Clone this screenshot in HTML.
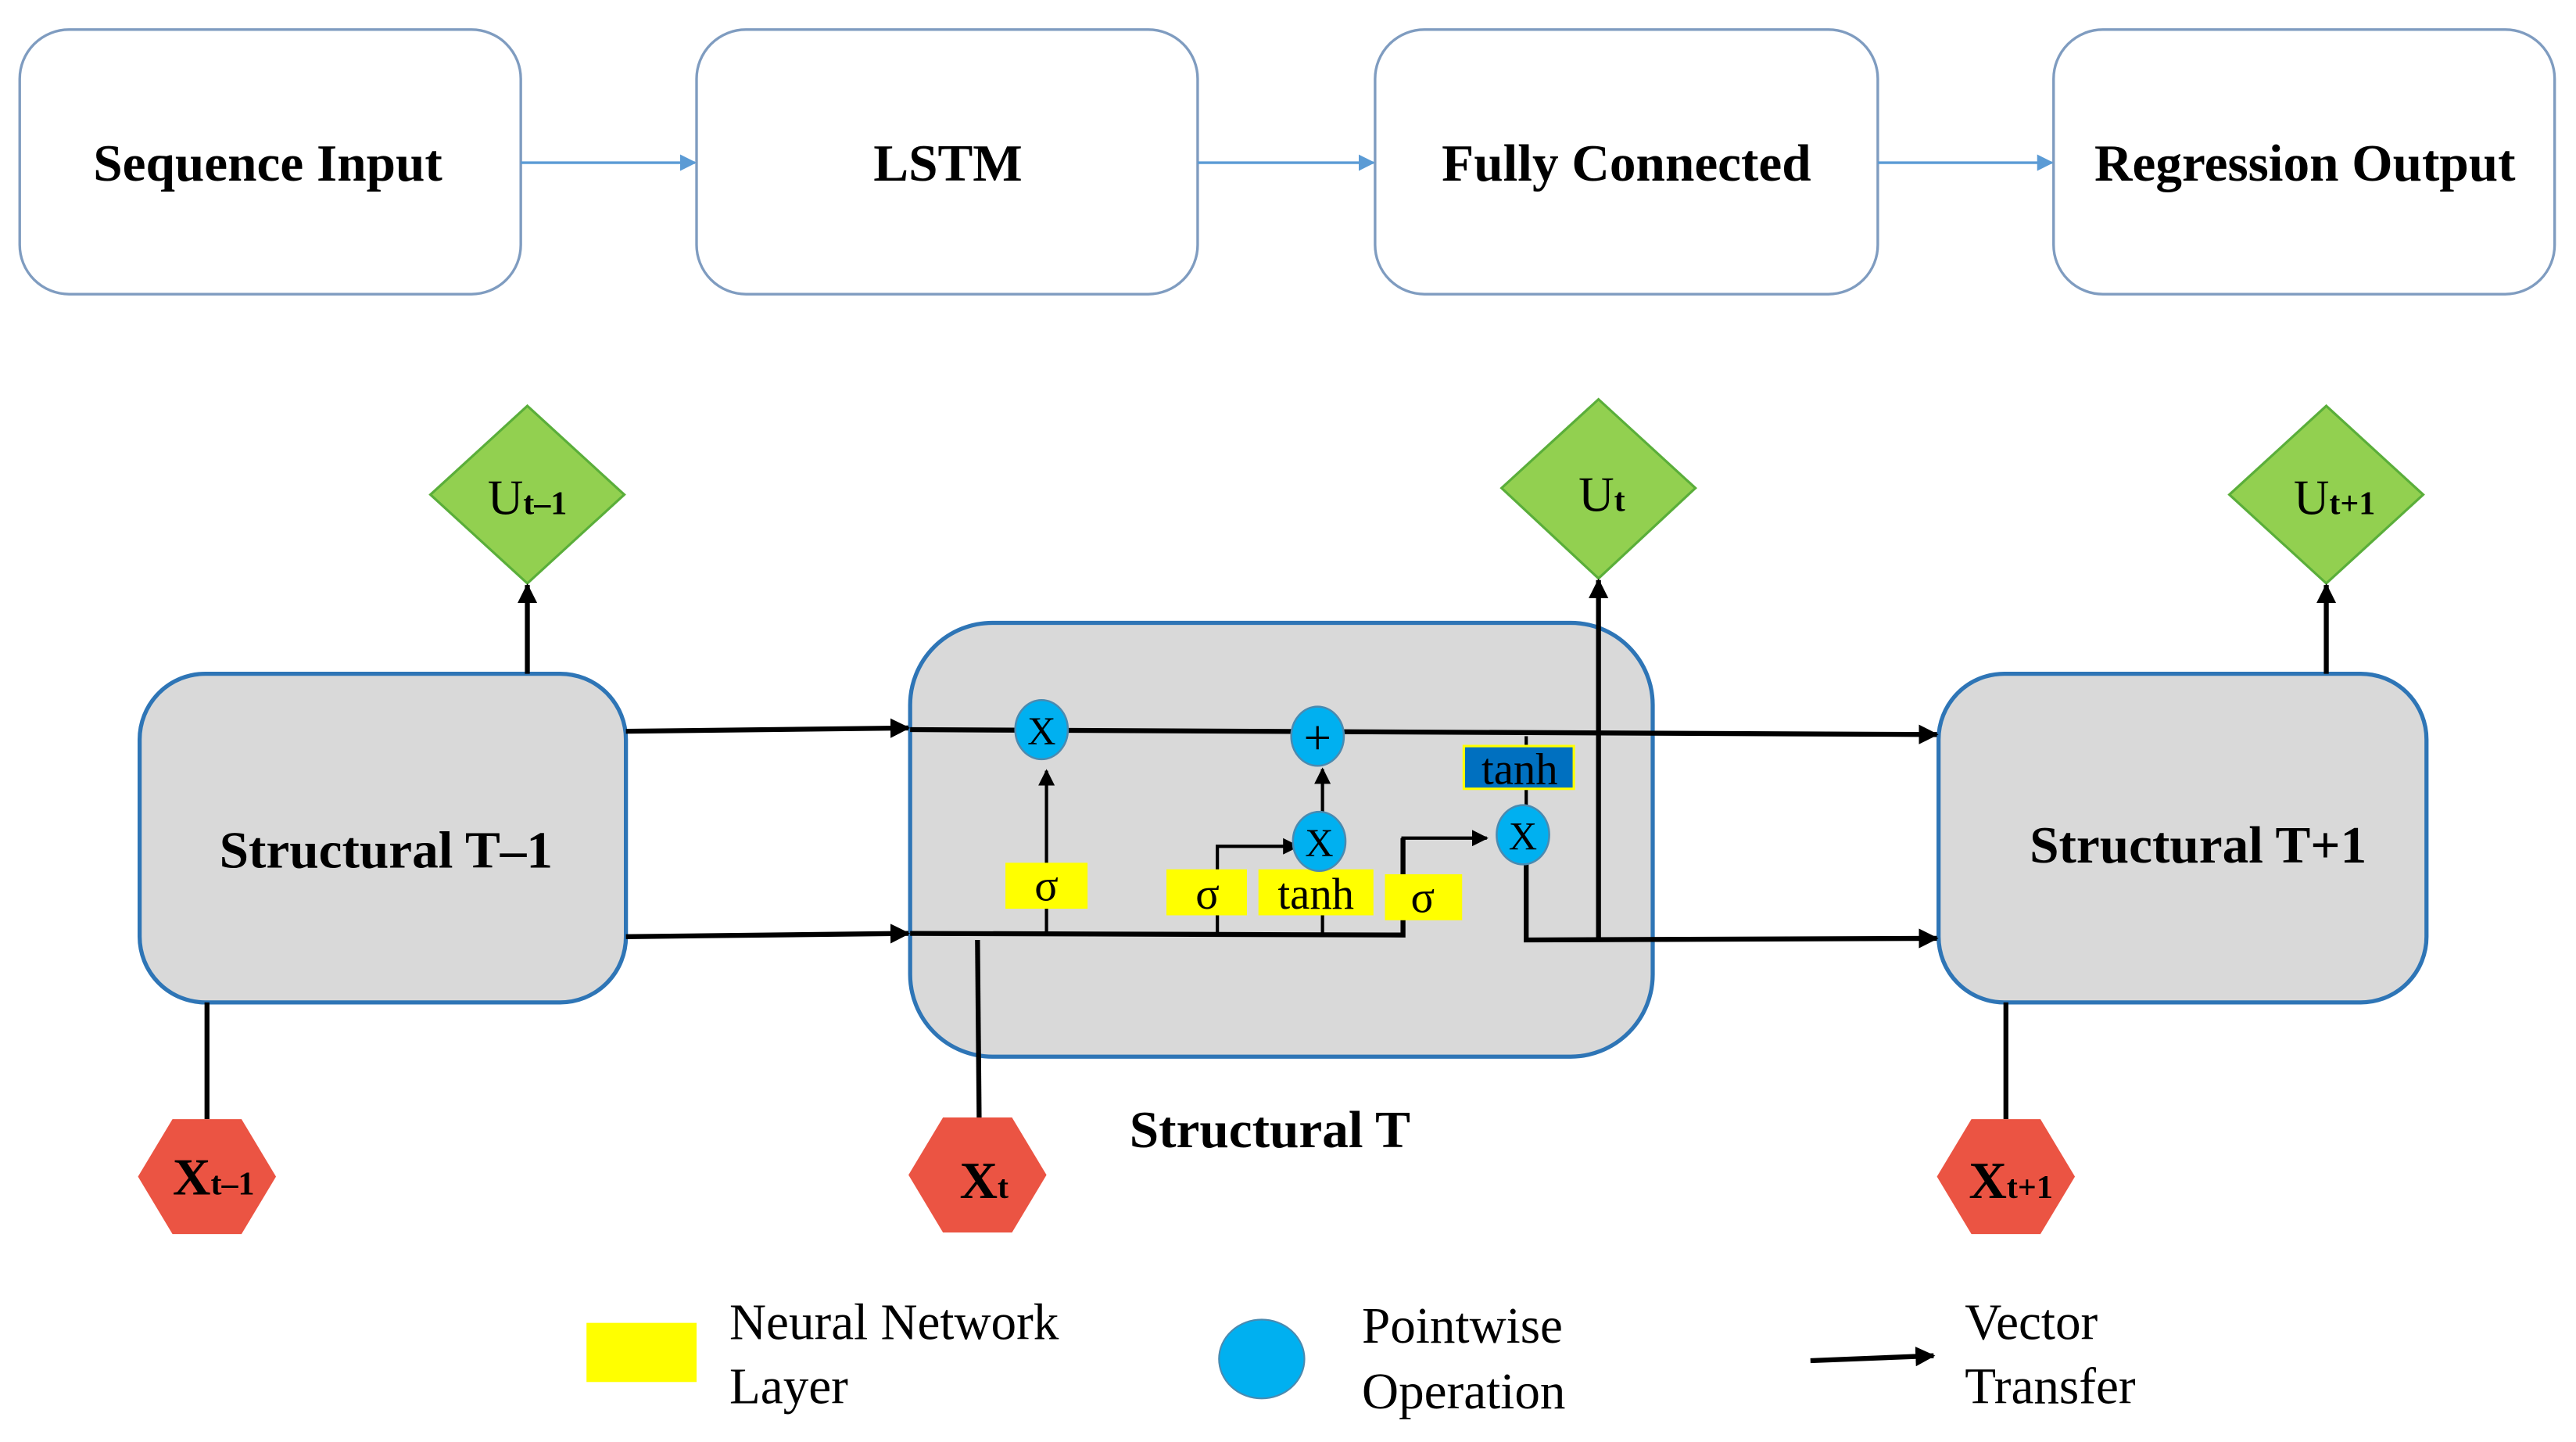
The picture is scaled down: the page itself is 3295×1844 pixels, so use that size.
<!DOCTYPE html>
<html><head><meta charset="utf-8"><style>
html,body{margin:0;padding:0;background:#fff;}
svg{display:block;}
svg text{font-family:"Liberation Serif","Times New Roman",Times,"DejaVu Serif",serif;}
</style></head><body>
<svg width="3295" height="1844" viewBox="0 0 1568 877.5" preserveAspectRatio="none" xmlns="http://www.w3.org/2000/svg" font-family="'Liberation Serif','Times New Roman',serif">
<defs>
<marker id="ab" markerWidth="10" markerHeight="10" refX="9" refY="5" orient="auto" markerUnits="userSpaceOnUse"><path d="M0,0 L10,5 L0,10 z" fill="#5b9bd5"/></marker>
<marker id="ak" markerWidth="12" markerHeight="12" refX="11" refY="6" orient="auto" markerUnits="userSpaceOnUse"><path d="M0,0 L12,6 L0,12 z" fill="#000"/></marker>
<marker id="aks" markerWidth="10" markerHeight="10" refX="9" refY="5" orient="auto" markerUnits="userSpaceOnUse"><path d="M0,0 L10,5 L0,10 z" fill="#000"/></marker>
</defs>
<g fill="#fff" stroke="#7f9cc0" stroke-width="1.6">
<rect x="12" y="18" width="305" height="161" rx="30"/>
<rect x="424" y="18" width="305" height="161" rx="30"/>
<rect x="837" y="18" width="306" height="161" rx="30"/>
<rect x="1250" y="18" width="305" height="161" rx="30"/>
</g>
<g stroke="#5b9bd5" stroke-width="1.6" marker-end="url(#ab)">
<line x1="317" y1="99" x2="423" y2="99"/>
<line x1="729" y1="99" x2="836" y2="99"/>
<line x1="1143" y1="99" x2="1249" y2="99"/>
</g>
<g font-weight="bold" font-size="32" text-anchor="middle">
<text x="163" y="110">Sequence Input</text>
<text x="577" y="110">LSTM</text>
<text x="990" y="110">Fully Connected</text>
<text x="1403" y="110">Regression Output</text>
</g>
<g fill="#d9d9d9" stroke="#2e75b6" stroke-width="2.5">
<rect x="85" y="410" width="296" height="200" rx="40"/>
<rect x="554" y="379" width="452" height="264" rx="50"/>
<rect x="1180" y="410" width="297" height="200" rx="40"/>
</g>
<g font-weight="bold" font-size="32" text-anchor="middle">
<text x="235" y="528">Structural T–1</text>
<text x="1338" y="525">Structural T+1</text>
<text x="773" y="698">Structural T</text>
</g>
<g fill="#92d050" stroke="#5aae3a" stroke-width="1.5">
<polygon points="321,247 380,301 321,355 262,301"/>
<polygon points="973,243 1032,297 973,352 914,297"/>
<polygon points="1416,247 1475,301 1416,355 1357,301"/>
</g>
<g font-size="30" text-anchor="middle">
<text x="321" y="313">U<tspan font-size="20" font-weight="bold">t–1</tspan></text>
<text x="975" y="311">U<tspan font-size="20" font-weight="bold">t</tspan></text>
<text x="1421" y="313">U<tspan font-size="20" font-weight="bold">t+1</tspan></text>
</g>
<g stroke="#000" stroke-width="3" fill="none">
<line x1="321" y1="410" x2="321" y2="356" marker-end="url(#ak)"/>
<line x1="1416" y1="410" x2="1416" y2="356" marker-end="url(#ak)"/>
<line x1="381" y1="445" x2="553" y2="443" marker-end="url(#ak)"/>
<line x1="381" y1="570" x2="553" y2="568" marker-end="url(#ak)"/>
<line x1="554" y1="444" x2="1179" y2="447" marker-end="url(#ak)"/>
<polyline points="554,568 854,569 854,510"/>
<polyline points="929,525 929,572 1179,571" marker-end="url(#ak)"/>
<line x1="973" y1="572" x2="973" y2="353" marker-end="url(#ak)"/>
<line x1="595" y1="572" x2="596" y2="681"/>
<line x1="126" y1="610" x2="126" y2="681"/>
<line x1="1221" y1="610" x2="1221" y2="681"/>
</g>
<g stroke="#000" stroke-width="2" fill="none">
<line x1="637" y1="568" x2="637" y2="469" marker-end="url(#aks)"/>
<polyline points="741,568 741,515 790,515" marker-end="url(#aks)"/>
<polyline points="854,512 854,510 905,510" marker-end="url(#aks)"/>
<line x1="805" y1="494" x2="805" y2="468" marker-end="url(#aks)"/>
<line x1="805" y1="568" x2="805" y2="556"/>
<line x1="929" y1="448" x2="929" y2="455"/>
<line x1="929" y1="480" x2="929" y2="492"/>
</g>
<g fill="#ffff00">
<rect x="612" y="525" width="50" height="28"/>
<rect x="710" y="529" width="49" height="28"/>
<rect x="766" y="529" width="70" height="28"/>
<rect x="843" y="532" width="47" height="28"/>
</g>
<rect x="891" y="454" width="67" height="26" fill="#0070c0" stroke="#ffff00" stroke-width="1.5"/>
<g font-size="27" text-anchor="middle">
<text x="637" y="548">σ</text>
<text x="735" y="553">σ</text>
<text x="801" y="553">tanh</text>
<text x="866" y="555">σ</text>
<text x="925" y="477">tanh</text>
</g>
<g fill="#00b0f0" stroke="#4a8ab0" stroke-width="1.2">
<ellipse cx="634" cy="444" rx="16" ry="18"/>
<ellipse cx="802" cy="448" rx="16" ry="18"/>
<ellipse cx="803" cy="512" rx="16" ry="18"/>
<ellipse cx="927" cy="508" rx="16" ry="18"/>
</g>
<g font-size="24" text-anchor="middle">
<text x="634" y="453">X</text>
<text x="802" y="459" font-size="30">+</text>
<text x="803" y="521">X</text>
<text x="927" y="517">X</text>
</g>
<g fill="#eb5443">
<polygon points="84,716 105,681 147,681 168,716 147,751 105,751"/>
<polygon points="553,715 574,680 616,680 637,715 616,750 574,750"/>
<polygon points="1179,716 1200,681 1242,681 1263,716 1242,751 1200,751"/>
</g>
<g font-size="32" font-weight="bold" text-anchor="middle">
<text x="130" y="727">X<tspan font-size="20">t–1</tspan></text>
<text x="599" y="729">X<tspan font-size="20">t</tspan></text>
<text x="1224" y="729">X<tspan font-size="20">t+1</tspan></text>
</g>
<rect x="357" y="805" width="67" height="36" fill="#ffff00"/>
<ellipse cx="768" cy="827" rx="26" ry="24" fill="#00b0f0" stroke="#4a8ab0" stroke-width="1"/>
<line x1="1102" y1="828" x2="1177" y2="825" stroke="#000" stroke-width="3" marker-end="url(#ak)"/>
<g font-size="31">
<text x="444" y="815">Neural Network</text>
<text x="444" y="854">Layer</text>
<text x="829" y="817">Pointwise</text>
<text x="829" y="857">Operation</text>
<text x="1196" y="815">Vector</text>
<text x="1196" y="854">Transfer</text>
</g>
</svg>
</body></html>
